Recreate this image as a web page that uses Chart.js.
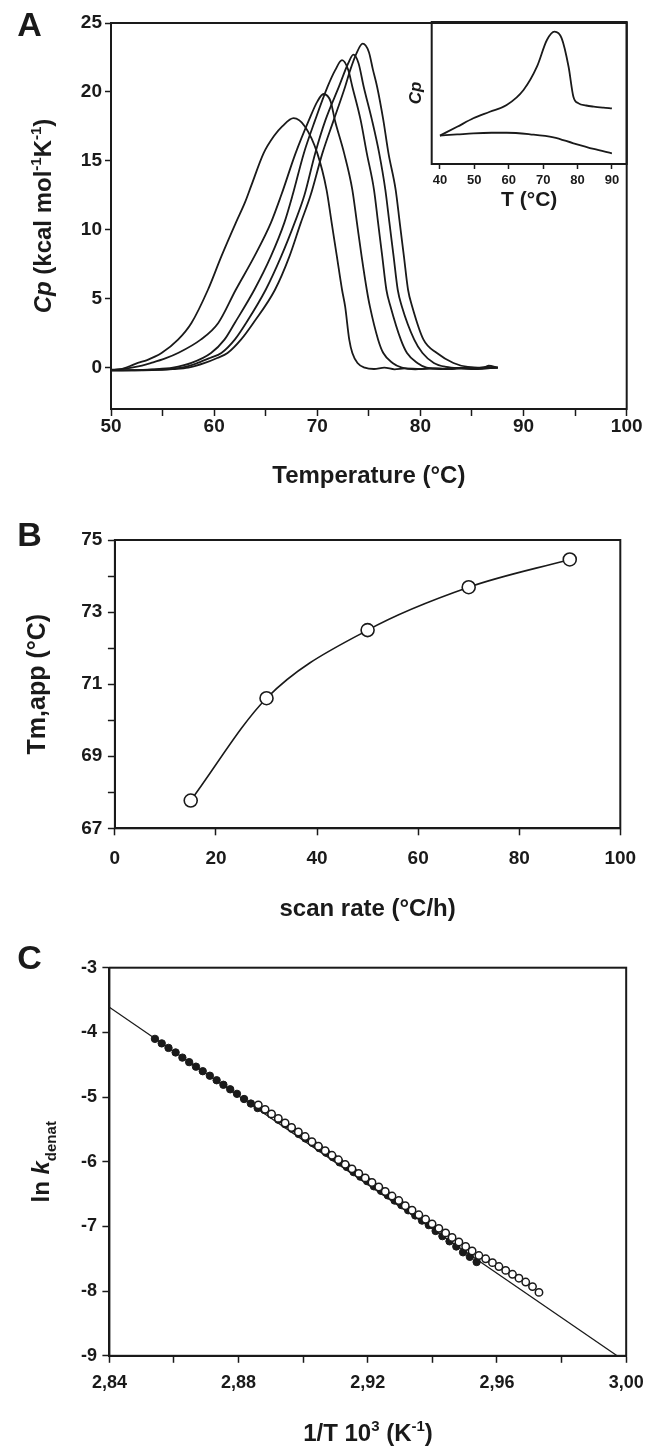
<!DOCTYPE html>
<html>
<head>
<meta charset="utf-8">
<script src="https://cdn.jsdelivr.net/npm/chart.js@4.4.1/dist/chart.umd.min.js"></script>
<style>
  html, body { margin: 0; padding: 0; background: #fff; }
  #wrap { position: relative; width: 655px; height: 1446px; overflow: hidden; }
  canvas { position: absolute; left: 0; }
</style>
</head>
<body>
<div id="wrap">
  <canvas id="panelA" width="655" height="500" style="top:0"></canvas>
  <canvas id="inset" width="260" height="215" style="top:0;left:395px"></canvas>
  <canvas id="panelB" width="655" height="440" style="top:500px"></canvas>
  <canvas id="panelC" width="655" height="506" style="top:940px"></canvas>
</div>
<script>
/* ---------------------------------------------------
   DATA - panel A (DSC traces, one per scan rate)
--------------------------------------------------- */
const rate15T  = [50, 51, 51.8, 52.6, 53.5, 54.9, 56.5, 57.8, 59.4, 60.7, 62.1, 63.0, 63.6, 64.8, 65.8, 66.6, 67.7, 68.8, 70.0, 70.9,
                  71.4, 71.9, 72.4, 72.7, 73.1, 73.4, 73.9, 74.6, 75.5, 76.5, 77.5, 78.5, 80, 81.5, 83, 84.5, 86, 86.6, 87.5];
const rate15Cp = [-0.15, -0.1, 0.1, 0.34, 0.55, 1.06, 2.03, 3.24, 5.65, 8.07, 10.5, 12.0, 13.2, 15.56, 16.8, 17.5, 18.1, 17.5, 15.56, 12.9,
                  10.48, 8.07, 5.65, 4.44, 2.03, 1.06, 0.34, 0.0, -0.1, 0.0, -0.12, -0.05, -0.1, -0.05, -0.1, 0.0, -0.05, 0.15, 0.0];

const rate30T  = [50, 51, 52, 53, 53.9, 55.2, 56.5, 58.7, 60.4, 62.1, 63.9, 65.5, 66.5, 67.9, 69.2, 70.0, 70.6, 71.3, 71.7, 72.6,
                  73.4, 73.85, 74.3, 74.8, 75.1, 75.9, 76.4, 77.3, 78.2, 79.5, 81, 82.5, 84, 85.5, 87.3];
const rate30Cp = [-0.2, -0.1, 0.0, 0.15, 0.34, 0.65, 1.06, 2.03, 3.24, 5.65, 8.07, 10.5, 12.5, 15.56, 17.97, 19.3, 19.85, 19.3, 17.97, 15.56,
                  12.9, 10.48, 8.07, 5.65, 4.44, 2.03, 1.06, 0.34, 0.0, -0.12, -0.05, -0.1, 0.0, -0.08, 0.0];

const rate50T  = [50, 52, 54, 56, 57.8, 59.7, 61.0, 62.0, 63.9, 65.5, 66.8, 67.6, 68.7, 69.8, 71.0, 71.75, 72.4, 73.0, 73.4, 74.2,
                  74.8, 75.5, 75.9, 76.3, 76.7, 77.1, 78.1, 78.7, 79.7, 80.6, 82, 83.5, 85, 86.5, 87.5];
const rate50Cp = [-0.2, -0.18, -0.12, 0.0, 0.34, 1.06, 2.03, 3.24, 5.65, 8.07, 10.5, 12.5, 15.56, 17.97, 20.38, 21.6, 22.3, 21.6, 20.38, 17.97,
                  15.56, 12.9, 10.48, 8.07, 5.65, 4.44, 2.03, 1.06, 0.34, 0.0, -0.1, -0.05, -0.1, 0.05, 0.0];

const rate70T  = [50, 52, 54, 56, 57.2, 58.4, 59.6, 60.7, 62.0, 63.1, 65.0, 66.5, 67.8, 68.75, 69.8, 70.8, 72.1, 73.0, 73.5, 74.0,
                  74.5, 75.3, 76.0, 76.6, 77.0, 77.4, 77.8, 78.2, 79.4, 80.2, 81.3, 82.5, 84, 85.5, 87.5];
const rate70Cp = [-0.2, -0.2, -0.15, -0.08, 0.05, 0.34, 0.7, 1.06, 2.03, 3.24, 5.65, 8.07, 10.5, 12.5, 15.56, 17.97, 20.38, 22.08, 22.7, 22.08,
                  20.38, 17.97, 15.56, 12.9, 10.48, 8.07, 5.65, 4.44, 2.03, 1.06, 0.34, 0.05, -0.05, -0.1, 0.0];

const rate90T  = [50, 52, 54, 56, 57.5, 59.1, 60.3, 61.3, 62.6, 63.8, 65.9, 67.3, 68.4, 69.35, 70.5, 71.6, 72.7, 73.2, 73.8, 74.4,
                  75.0, 75.4, 75.8, 76.4, 76.9, 77.6, 78.0, 78.4, 78.8, 79.2, 80.3, 81.6, 83.2, 84.6, 86, 87.5];
const rate90Cp = [-0.2, -0.2, -0.18, -0.1, 0.0, 0.34, 0.7, 1.06, 2.03, 3.24, 5.65, 8.07, 10.5, 12.5, 15.56, 17.97, 20.38, 21.6, 22.8, 23.5,
                  22.9, 21.6, 20.38, 17.97, 15.56, 12.9, 10.48, 8.07, 5.65, 4.44, 2.03, 1.06, 0.34, 0.05, 0.0, 0.0];

const aXTicks  = [50, 55, 60, 65, 70, 75, 80, 85, 90, 95, 100];
const aXLabels = ['50', '', '60', '', '70', '', '80', '', '90', '', '100'];
const aYTicks  = [0, 5, 10, 15, 20, 25];

// inset (raw scans, arbitrary Cp units)
const insetUpT   = [40, 45, 49.7, 54.5, 59.4, 64.3, 68.2, 71.1, 73.3, 75.4, 77.4, 78.8, 80.3, 82.5, 84.7, 87.5, 90];
const insetUpCp  = [2.0, 2.62, 3.22, 3.68, 4.15, 5.21, 6.85, 8.73, 9.32, 8.85, 6.85, 4.74, 4.27, 4.12, 4.04, 3.97, 3.92];
const insetLowT  = [40, 45, 49.7, 55, 59.4, 66.2, 73, 78.8, 84.7, 90];
const insetLowCp = [2.0, 2.08, 2.16, 2.2, 2.2, 2.09, 1.88, 1.46, 1.06, 0.75];
const insetXTicks = [40, 50, 60, 70, 80, 90];

/* ---------------------------------------------------
   DATA - panel B
--------------------------------------------------- */
const scanRates = [15, 30, 50, 70, 90];
const tmApp     = [67.77, 70.61, 72.5, 73.69, 74.46];
const bXTicks   = [0, 20, 40, 60, 80, 100];
const bYTicks   = [67, 68, 69, 70, 71, 72, 73, 74, 75];
const bYLabels  = ['67', '', '69', '', '71', '', '73', '', '75'];

/* ---------------------------------------------------
   DATA - panel C (Arrhenius plot)
--------------------------------------------------- */
const filledX = [2.8541, 2.8562, 2.8583, 2.8605, 2.8626, 2.8647, 2.8668, 2.8689, 2.8711, 2.8732, 2.8753, 2.8774, 2.8795, 2.8817, 2.8838, 2.8859,
                 2.8880, 2.8901, 2.8923, 2.8944, 2.8965, 2.8986, 2.9007, 2.9029, 2.9050, 2.9071, 2.9092, 2.9113, 2.9135, 2.9156, 2.9177, 2.9198,
                 2.9219, 2.9241, 2.9262, 2.9283, 2.9304, 2.9325, 2.9347, 2.9368, 2.9389, 2.9410, 2.9431, 2.9453, 2.9474, 2.9495, 2.9516, 2.9537];
const filledY = [-4.10, -4.17, -4.24, -4.31, -4.39, -4.46, -4.53, -4.60, -4.67, -4.74, -4.81, -4.88, -4.95, -5.03, -5.10, -5.17,
                 -5.20, -5.27, -5.35, -5.42, -5.49, -5.57, -5.64, -5.71, -5.79, -5.86, -5.93, -6.01, -6.08, -6.16, -6.23, -6.30,
                 -6.38, -6.45, -6.52, -6.60, -6.67, -6.75, -6.83, -6.91, -6.98, -7.07, -7.15, -7.23, -7.31, -7.40, -7.47, -7.55];
const openX = [2.8861, 2.8882, 2.8902, 2.8923, 2.8944, 2.8964, 2.8985, 2.9006, 2.9027, 2.9047, 2.9068, 2.9089, 2.9109, 2.9130, 2.9151,
               2.9172, 2.9192, 2.9213, 2.9234, 2.9254, 2.9275, 2.9296, 2.9316, 2.9337, 2.9358, 2.9379, 2.9399, 2.9420, 2.9441, 2.9461,
               2.9482, 2.9503, 2.9523, 2.9544, 2.9565, 2.9586, 2.9606, 2.9627, 2.9648, 2.9668, 2.9689, 2.9710, 2.9730];
const openY = [-5.12, -5.19, -5.26, -5.33, -5.40, -5.47, -5.54, -5.61, -5.69, -5.76, -5.83, -5.90, -5.97, -6.04, -6.11,
               -6.18, -6.25, -6.32, -6.39, -6.46, -6.53, -6.60, -6.68, -6.75, -6.82, -6.89, -6.96, -7.03, -7.10, -7.17,
               -7.24, -7.31, -7.38, -7.45, -7.50, -7.56, -7.62, -7.68, -7.74, -7.80, -7.86, -7.93, -8.02];
const fitX = [2.84, 2.9972];
const fitY = [-3.61, -9.0];
const cXTicks  = [2.84, 2.86, 2.88, 2.90, 2.92, 2.94, 2.96, 2.98, 3.00];
const cXLabels = ['2,84', '', '2,88', '', '2,92', '', '2,96', '', '3,00'];
const cYTicks  = [-9, -8, -7, -6, -5, -4, -3];

/* ---------------------------------------------------
   HELPERS
--------------------------------------------------- */
const FONT = "'Liberation Sans', Arial, sans-serif";
const INK = '#1a1a1a';
const pts = (xs, ys) => xs.map((x, i) => ({ x, y: ys[i] }));

// box around the plot area (top and right edges too)
const frame = {
  id: 'frame',
  afterDraw(chart) {
    const { ctx, chartArea: a } = chart;
    ctx.save();
    ctx.strokeStyle = INK;
    ctx.lineWidth = 2;
    ctx.strokeRect(a.left, a.top, a.right - a.left, a.bottom - a.top);
    ctx.restore();
  }
};

// text with italic / super / subscript pieces
function drawRuns(ctx, it) {
  const size = it.size;
  ctx.save();
  ctx.translate(it.x, it.y);
  ctx.rotate(it.rot || 0);
  const parts = it.runs.map(r => {
    const s = (r.sup || r.sub) ? Math.round(size * 0.64) : size;
    const font = (r.i ? 'italic ' : '') + 'bold ' + s + 'px ' + FONT;
    ctx.font = font;
    return { ...r, font, w: ctx.measureText(r.t).width };
  });
  const total = parts.reduce((a, p) => a + p.w, 0);
  let cx = -total / 2;
  ctx.fillStyle = INK;
  ctx.textBaseline = 'alphabetic';
  parts.forEach(p => {
    ctx.font = p.font;
    const dy = p.sup ? -size * 0.4 : p.sub ? size * 0.28 : 0;
    ctx.fillText(p.t, cx, size * 0.36 + dy);
    cx += p.w;
  });
  ctx.restore();
}

const texts = {
  id: 'texts',
  afterDraw(chart, args, opts) {
    (opts.items || []).forEach(it => drawRuns(chart.ctx, it));
  }
};

function axis(o) {
  return {
    type: 'linear',
    position: o.pos,
    min: o.min,
    max: o.max,
    afterBuildTicks: s => { s.ticks = o.ticks.map(v => ({ value: v })); },
    afterFit: s => { if (o.pos === 'left') s.width = o.size; else s.height = o.size; },
    grid: { drawOnChartArea: false, tickLength: o.tl || 7, tickWidth: 1.5, tickColor: INK },
    border: { color: INK, width: 2 },
    ticks: {
      autoSkip: false,
      maxRotation: 0,
      padding: o.pad,
      color: INK,
      font: { family: FONT, size: o.font || 19, weight: 'bold', lineHeight: 1 },
      callback: (v, i) => (o.labels ? o.labels[i] : String(v))
    },
    title: o.title
      ? { display: true, text: o.title, color: INK,
          font: { family: FONT, size: o.tsize || 24, weight: 'bold', lineHeight: 1.2 },
          padding: o.tpad }
      : { display: false }
  };
}

const baseOpts = {
  responsive: false,
  animation: false,
  events: []
};

const curve = (xs, ys) => ({
  data: pts(xs, ys),
  showLine: true,
  pointRadius: 0,
  borderColor: INK,
  borderWidth: 1.8,
  cubicInterpolationMode: 'monotone'
});

/* ---------------------------------------------------
   PANEL A
--------------------------------------------------- */
new Chart(document.getElementById('panelA'), {
  type: 'scatter',
  data: {
    datasets: [
      curve(rate15T, rate15Cp),
      curve(rate30T, rate30Cp),
      curve(rate50T, rate50Cp),
      curve(rate70T, rate70Cp),
      curve(rate90T, rate90Cp)
    ]
  },
  options: {
    ...baseOpts,
    layout: { padding: { top: 23, right: 28.3 } },
    plugins: {
      legend: { display: false },
      tooltip: { enabled: false },
      texts: {
        items: [
          { runs: [{ t: 'A' }], x: 29.5, y: 24, size: 34 },
          { runs: [{ t: 'Cp', i: true }, { t: ' (kcal mol' }, { t: '-1', sup: true }, { t: 'K' }, { t: '-1', sup: true }, { t: ')' }],
            x: 42, y: 216, rot: -Math.PI / 2, size: 24 }
        ]
      }
    },
    scales: {
      x: axis({ pos: 'bottom', min: 50, max: 100, ticks: aXTicks, labels: aXLabels, size: 91, pad: 1,
                title: 'Temperature (°C)', tpad: { bottom: 9.6 } }),
      y: axis({ pos: 'left', min: -3, max: 25, ticks: aYTicks, size: 111, pad: 3, tl: 6 })
    }
  },
  plugins: [frame, texts]
});

/* inset */
new Chart(document.getElementById('inset'), {
  type: 'scatter',
  data: {
    datasets: [
      curve(insetUpT, insetUpCp),
      curve(insetLowT, insetLowCp)
    ]
  },
  options: {
    ...baseOpts,
    layout: { padding: { top: 22, right: 28.3 } },
    plugins: { legend: { display: false }, tooltip: { enabled: false } },
    scales: {
      x: axis({ pos: 'bottom', min: 37.6, max: 94.3, ticks: insetXTicks, size: 51, pad: 5, font: 13, tl: 5,
                title: 'T (°C)', tsize: 21, tpad: { bottom: 2 } }),
      y: {
        type: 'linear',
        position: 'left',
        min: 0,
        max: 10,
        afterFit: s => { s.width = 36.7; },
        ticks: { display: false },
        grid: { display: false },
        border: { display: false },
        title: { display: true, text: 'Cp', color: INK,
                 font: { family: FONT, size: 17, style: 'italic', weight: 'bold', lineHeight: 1.2 },
                 padding: { top: 10.8 } }
      }
    }
  },
  plugins: [frame]
});

/* ---------------------------------------------------
   PANEL B
--------------------------------------------------- */
new Chart(document.getElementById('panelB'), {
  type: 'scatter',
  data: {
    datasets: [{
      data: pts(scanRates, tmApp),
      showLine: true,
      cubicInterpolationMode: 'monotone',
      borderColor: INK,
      borderWidth: 1.6,
      pointRadius: 6.5,
      pointBorderWidth: 1.6,
      pointBackgroundColor: '#fff',
      pointBorderColor: INK
    }]
  },
  options: {
    ...baseOpts,
    layout: { padding: { top: 40, right: 34.7 } },
    plugins: {
      legend: { display: false },
      tooltip: { enabled: false },
      texts: { items: [{ runs: [{ t: 'B' }], x: 29.5, y: 34, size: 34 }] }
    },
    scales: {
      x: axis({ pos: 'bottom', min: 0, max: 100, ticks: bXTicks, size: 111.7, pad: 13.5,
                title: 'scan rate (°C/h)', tpad: { bottom: 16.6 } }),
      y: axis({ pos: 'left', min: 67, max: 75, ticks: bYTicks, labels: bYLabels, size: 114.9, pad: 5.6,
                title: 'Tm,app (°C)', tsize: 25, tpad: { top: 23 } })
    }
  },
  plugins: [frame, texts]
});

/* ---------------------------------------------------
   PANEL C
--------------------------------------------------- */
new Chart(document.getElementById('panelC'), {
  type: 'scatter',
  data: {
    datasets: [
      { data: pts(openX, openY), order: 1, pointRadius: 3.7, pointBorderWidth: 1.5,
        pointBackgroundColor: '#fff', pointBorderColor: INK },
      { data: pts(filledX, filledY), order: 2, pointRadius: 3.7, pointBorderWidth: 1,
        pointBackgroundColor: INK, pointBorderColor: INK },
      { data: pts(fitX, fitY), order: 3, showLine: true, pointRadius: 0, borderColor: INK, borderWidth: 1.2 }
    ]
  },
  options: {
    ...baseOpts,
    layout: { padding: { top: 27.7, right: 28.4 } },
    plugins: {
      legend: { display: false },
      tooltip: { enabled: false },
      texts: {
        items: [
          { runs: [{ t: 'C' }], x: 29.5, y: 17, size: 34 },
          { runs: [{ t: 'ln ' }, { t: 'k', i: true }, { t: 'denat', sub: true }], x: 40.7, y: 221.8, rot: -Math.PI / 2, size: 24 },
          { runs: [{ t: '1/T 10' }, { t: '3', sup: true }, { t: ' (K' }, { t: '-1', sup: true }, { t: ')' }], x: 368, y: 492, size: 24 }
        ]
      }
    },
    scales: {
      x: axis({ pos: 'bottom', min: 2.84, max: 3.0, ticks: cXTicks, labels: cXLabels, size: 90.2, pad: 11.3, font: 18 }),
      y: axis({ pos: 'left', min: -9, max: -3, ticks: cYTicks, size: 109.4, pad: 5.4, font: 18 })
    }
  },
  plugins: [frame, texts]
});
</script>
</body>
</html>
